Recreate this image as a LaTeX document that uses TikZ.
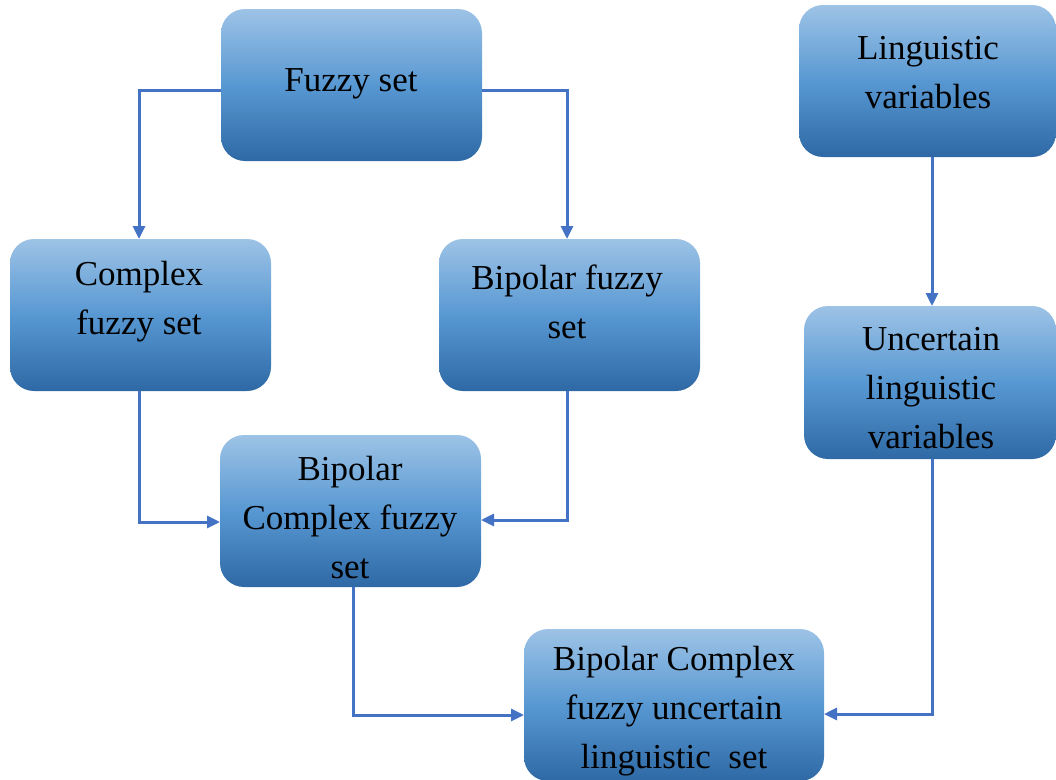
\documentclass[tikz,border=0pt]{standalone}
\usepackage{fontspec}
\setmainfont{Liberation Serif}
\usetikzlibrary{arrows.meta}
\definecolor{boxtop}{RGB}{157,195,230}
\definecolor{boxmid}{RGB}{88,152,210}
\definecolor{boxbot}{RGB}{46,105,165}
\definecolor{lnk}{RGB}{68,114,196}
\begin{document}
\begin{tikzpicture}[x=1pt,y=-1pt,
  fbox/.style={rounded corners=24pt, top color=boxtop, bottom color=boxbot, middle color=boxmid, draw=none},
  lbl/.style={align=center, font=\fontsize{35}{49}\selectfont, inner sep=0pt},
  conn/.style={draw=lnk, line width=3pt, -{Triangle[length=13pt,width=12pt]}}]
\useasboundingbox (0,0) rectangle (1056,779);
% boxes
\path[fbox] (221,9) rectangle (482,161);
\node[lbl] (fs) at (351,84) {Fuzzy set};
\coordinate (fsL) at (221,90); \coordinate (fsR) at (482,90);
\path[fbox] (799,5) rectangle (1056,157);
\node[lbl] (lv) at (928,73) {Linguistic\\variables};
\coordinate (lvB) at (932,157);
\path[fbox] (10,239) rectangle (271,391);
\node[lbl] (cf) at (139,302) {Complex\\fuzzy set};
\coordinate (cfT) at (139,239); \coordinate (cfB) at (139,391);
\path[fbox] (439,239) rectangle (700,391);
\node[lbl] (bf) at (567,302) {Bipolar fuzzy\\set};
\coordinate (bfT) at (567,239); \coordinate (bfB) at (567,391);
\path[fbox] (804,306) rectangle (1056,459);
\node[lbl] (ul) at (931,388) {Uncertain\\linguistic\\variables};
\coordinate (ulT) at (932,306); \coordinate (ulB) at (932,459);
\path[fbox] (220,435) rectangle (481,587);
\node[lbl] (bc) at (350,518) {Bipolar\\Complex fuzzy\\set};
\coordinate (bcL) at (220,522); \coordinate (bcR) at (481,520); \coordinate (bcB) at (353,587);
\path[fbox] (524,629) rectangle (824,781);
\node[lbl] (bu) at (674,711) {Bipolar Complex\\fuzzy uncertain\\linguistic\ \ set};
\coordinate (buL) at (524,715); \coordinate (buR) at (824,714);
% connectors
\draw[conn] (fsL) -| (cfT);
\draw[conn] (fsR) -| (bfT);
\draw[conn] (lvB) -- (ulT);
\draw[conn] (cfB) |- (bcL);
\draw[conn] (bfB) |- (bcR);
\draw[conn] (bcB) |- (buL);
\draw[conn] (ulB) |- (buR);
\end{tikzpicture}
\end{document}
